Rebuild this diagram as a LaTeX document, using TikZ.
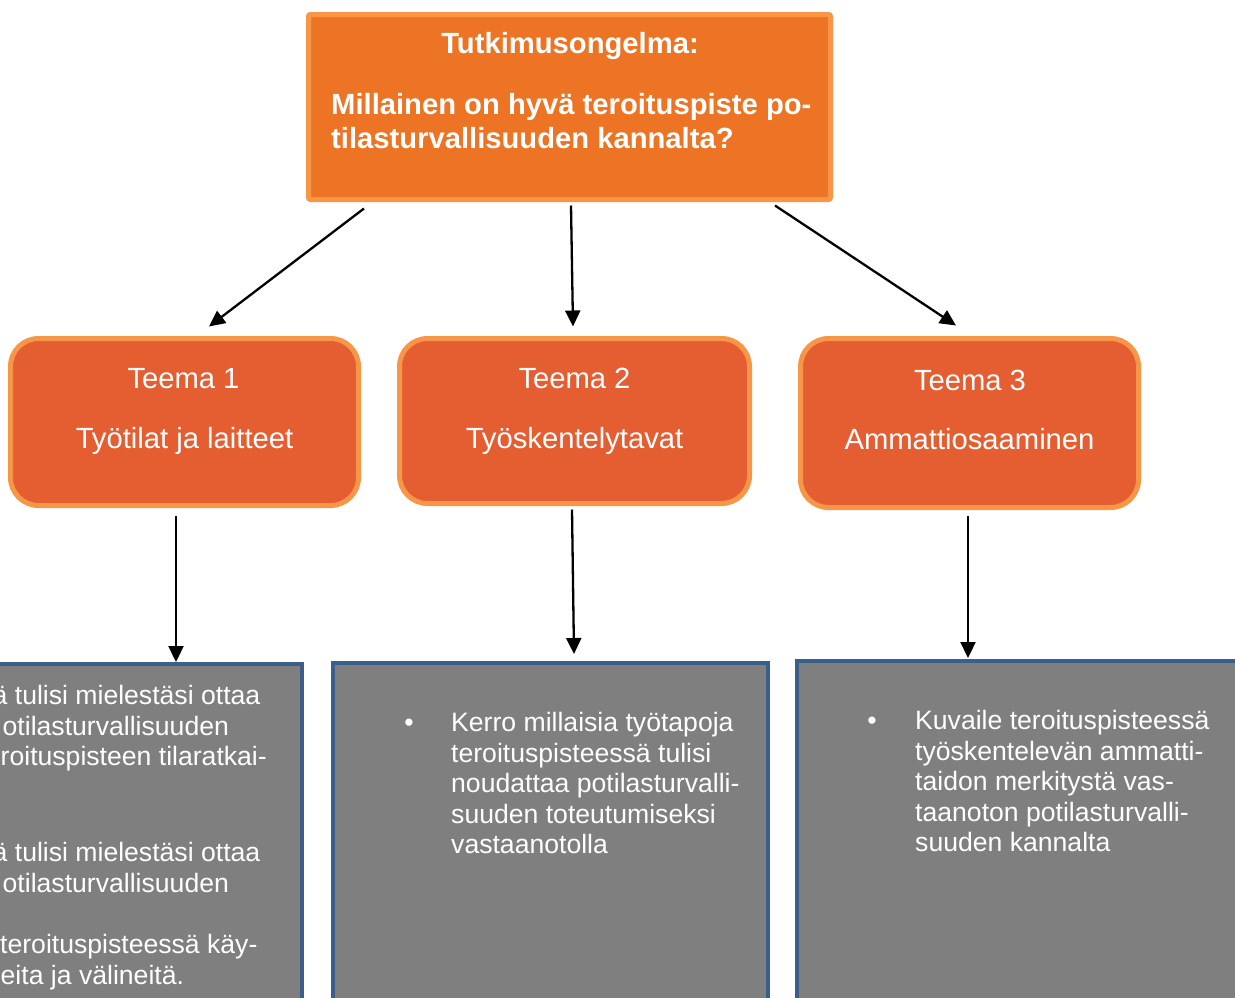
\documentclass[tikz,border=0pt]{standalone}
\usepackage{fontspec}
\setmainfont{Liberation Sans}
\usetikzlibrary{arrows.meta}
\definecolor{topfill}{HTML}{EC7424}
\definecolor{obord}{HTML}{F79646}
\definecolor{themefill}{HTML}{E55E32}
\definecolor{qgray}{HTML}{7F7F7F}
\definecolor{qblue}{HTML}{3A5F8B}
\begin{document}
\begin{tikzpicture}[x=1pt,y=-1pt,
  topbox/.style={draw=obord, line width=5pt, fill=topfill, rounded corners=2pt, inner sep=0pt},
  themebox/.style={draw=obord, line width=5pt, fill=themefill, rounded corners=28pt, inner sep=0pt},
  qbox/.style={draw=qblue, line width=4pt, fill=qgray, inner sep=0pt},
  arr/.style={line width=2.3pt, -{Triangle[length=16pt,width=15pt]}},
  bigtxt/.style={font=\fontsize{29.2}{33.6}\selectfont, text=white, inner sep=0pt, anchor=base},
  boldtxt/.style={font=\bfseries\fontsize{29.2}{33.6}\selectfont, text=white, inner sep=0pt},
  smalltxt/.style={font=\fontsize{26.6}{30.6}\selectfont, text=white, inner sep=0pt, anchor=base west},
  bul/.style={font=\fontsize{26.6}{30.6}\selectfont, text=white, inner sep=0pt, anchor=base}]
\clip (0,0) rectangle (1235,997);
\fill[white] (0,0) rectangle (1235,997);
% top box
\node[topbox, minimum width=522pt, minimum height=185pt] (top) at (569.5,107) {};
\node[boldtxt, anchor=base] (ttl) at (570,53.5) {Tutkimusongelma:};
\node[boldtxt, anchor=base west] (q1) at (331,114.5) {Millainen on hyvä teroituspiste po-};
\node[boldtxt, anchor=base west] (q2) at (331,148.1) {tilasturvallisuuden kannalta?};
% theme boxes
\node[themebox, minimum width=348pt, minimum height=167pt] (t1) at (184.5,422) {};
\node[themebox, minimum width=350pt, minimum height=165pt] (t2) at (574.5,421) {};
\node[themebox, minimum width=338pt, minimum height=169pt] (t3) at (969.5,423) {};
\node[bigtxt] (t1a) at (183.5,388.5) {Teema 1};
\node[bigtxt] (t1b) at (184.5,448.5) {Työtilat ja laitteet};
\node[bigtxt] (t2a) at (574.5,388.3) {Teema 2};
\node[bigtxt] (t2b) at (574.5,448.3) {Työskentelytavat};
\node[bigtxt] (t3a) at (970,390) {Teema 3};
\node[bigtxt] (t3b) at (969.5,449.5) {Ammattiosaaminen};
% question boxes
\node[qbox, minimum width=352pt, minimum height=386pt] (b1) at (126,857) {};
\node[qbox, minimum width=435pt, minimum height=387pt] (b2) at (550.5,856.5) {};
\node[qbox, minimum width=503pt, minimum height=389pt] (b3) at (1048.5,855.5) {};
% left box text (clipped at the picture edge)
\node[smalltxt] (l1) at (-7.5,704.5) {ä tulisi mielestäsi ottaa};
\node[smalltxt] (l2) at (2.5,735.1) {otilasturvallisuuden};
\node[smalltxt] (l3) at (0.5,765.7) {roituspisteen tilaratkai-};
\node[smalltxt] (l5) at (-7.5,861.5) {ä tulisi mielestäsi ottaa};
\node[smalltxt] (l6) at (2.5,892.1) {otilasturvallisuuden};
\node[smalltxt] (l8) at (0,953.5) {teroituspisteessä käy-};
\node[smalltxt] (l9) at (0.5,984.1) {eita ja välineitä.};
% middle box text
\node[bul] (m0) at (409,731.5) {•};
\node[smalltxt] (m1) at (451,731.5) {Kerro millaisia työtapoja};
\node[smalltxt] (m2) at (451,762.1) {teroituspisteessä tulisi};
\node[smalltxt] (m3) at (451,792.7) {noudattaa potilasturvalli-};
\node[smalltxt] (m4) at (451,823.3) {suuden toteutumiseksi};
\node[smalltxt] (m5) at (451,853.9) {vastaanotolla};
% right box text
\node[bul] (r0) at (872,729.5) {•};
\node[smalltxt] (r1) at (915,729.5) {Kuvaile teroituspisteessä};
\node[smalltxt] (r2) at (915,760.1) {työskentelevän ammatti-};
\node[smalltxt] (r3) at (915,790.7) {taidon merkitystä vas-};
\node[smalltxt] (r4) at (915,821.3) {taanoton potilasturvalli-};
\node[smalltxt] (r5) at (915,851.9) {suuden kannalta};
% arrows
\draw[arr] ([xshift=-205.5pt,yshift=-6.5pt]top.south) -- ([xshift=24.5pt,yshift=9.5pt]t1.north);
\draw[arr] ([xshift=1.5pt,yshift=-3.5pt]top.south) -- ([xshift=-1.5pt,yshift=9.5pt]t2.north);
\draw[arr] ([xshift=205.5pt,yshift=-3.5pt]top.south) -- ([xshift=-13.5pt,yshift=10.5pt]t3.north);
\draw[arr] ([xshift=-8.5pt,yshift=-7.5pt]t1.south) -- ([xshift=50pt]b1.north);
\draw[arr] ([xshift=-2.5pt,yshift=-3.5pt]t2.south) -- ([xshift=23.5pt,yshift=7pt]b2.north);
\draw[arr] ([xshift=-1.5pt,yshift=-5.5pt]t3.south) -- ([xshift=-80.5pt,yshift=1pt]b3.north);
\end{tikzpicture}
\end{document}
